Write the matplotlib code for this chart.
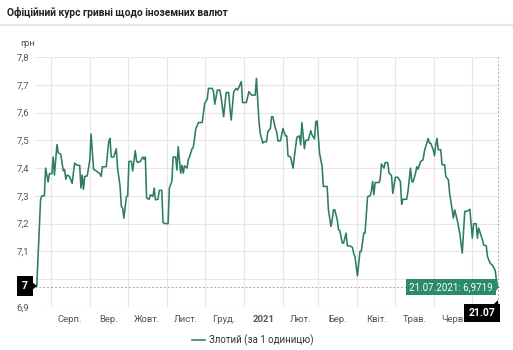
import numpy as np
import matplotlib.pyplot as plt
import matplotlib.dates as mdates
from matplotlib.lines import Line2D
from matplotlib.patches import Polygon

plt.rcParams['font.family'] = ['Roboto', 'DejaVu Sans']

title = 'Офіційний курс гривні щодо іноземних валют'
unit = 'грн'
series_name = 'Злотий (за 1 одиницю)'
start = np.datetime64('2020-07-21')

# дні від 21.07.2020 та курс злотого
days = [0, 3, 4, 6, 7, 9, 10, 12, 13, 14, 16, 17, 19, 21, 22, 23, 24, 26, 28, 30,
        32, 34, 35, 36, 37, 38, 40, 42, 43, 45, 47, 50, 51, 52, 55, 57, 58, 59, 61, 63,
        64, 66, 67, 68, 69, 71, 72, 73, 75, 76, 78, 79, 80, 82, 84, 85, 86, 87, 89, 90,
        92, 93, 94, 96, 97, 99, 100, 102, 104, 105, 107, 108, 110, 111, 112, 114, 115, 116, 117, 119,
        120, 121, 123, 124, 126, 127, 128, 131, 133, 135, 136, 139, 140, 141, 143, 145, 146, 148, 150, 152,
        153, 154, 156, 158, 159, 160, 162, 163, 166, 168, 170, 173, 174, 176, 177, 179, 180, 182, 183, 185,
        186, 187, 189, 190, 191, 193, 195, 197, 198, 199, 201, 203, 204, 206, 208, 209, 210, 212, 213, 215,
        217, 218, 220, 221, 222, 224, 226, 227, 230, 231, 233, 234, 235, 236, 238, 239, 240, 242, 243, 245,
        246, 248, 250, 251, 252, 254, 256, 257, 259, 260, 262, 264, 265, 266, 267, 268, 271, 272, 273, 275,
        276, 278, 279, 281, 282, 284, 286, 288, 289, 290, 293, 294, 296, 297, 298, 300, 301, 302, 304, 306,
        307, 308, 310, 311, 312, 314, 315, 316, 317, 318, 320, 321, 323, 324, 326, 327, 329, 330, 331, 333,
        335, 337, 338, 339, 341, 343, 345, 346, 348, 349, 350, 353, 354, 356, 357, 359, 361, 363, 364, 365]
rate = [6.975, 7.286, 7.30, 7.30, 7.40, 7.35, 7.38, 7.38, 7.44, 7.375, 7.485, 7.455, 7.45, 7.39, 7.395, 7.36, 7.375, 7.37, 7.345, 7.418,
        7.41, 7.41, 7.328, 7.375, 7.324, 7.37, 7.372, 7.43, 7.523, 7.396, 7.39, 7.38, 7.37, 7.405, 7.405, 7.495, 7.507, 7.44, 7.44, 7.47,
        7.40, 7.334, 7.262, 7.256, 7.22, 7.297, 7.30, 7.424, 7.424, 7.39, 7.463, 7.427, 7.42, 7.424, 7.44, 7.432, 7.44, 7.292, 7.288, 7.304,
        7.298, 7.328, 7.286, 7.288, 7.32, 7.32, 7.204, 7.20, 7.20, 7.328, 7.352, 7.44, 7.44, 7.393, 7.477, 7.382, 7.41, 7.382, 7.408, 7.40,
        7.432, 7.44, 7.47, 7.475, 7.543, 7.552, 7.564, 7.564, 7.633, 7.648, 7.687, 7.687, 7.675, 7.63, 7.681, 7.681, 7.655, 7.585, 7.672, 7.672,
        7.615, 7.573, 7.675, 7.687, 7.681, 7.69, 7.711, 7.636, 7.636, 7.675, 7.663, 7.663, 7.723, 7.567, 7.525, 7.49, 7.495, 7.495, 7.531, 7.543,
        7.585, 7.585, 7.543, 7.531, 7.498, 7.498, 7.543, 7.516, 7.516, 7.444, 7.44, 7.40, 7.44, 7.511, 7.516, 7.484, 7.564, 7.47, 7.50, 7.50,
        7.535, 7.52, 7.505, 7.567, 7.57, 7.454, 7.405, 7.334, 7.334, 7.25, 7.19, 7.214, 7.25, 7.25, 7.214, 7.178, 7.175, 7.13, 7.13, 7.166,
        7.12, 7.12, 7.115, 7.094, 7.082, 7.012, 7.10, 7.10, 7.166, 7.166, 7.297, 7.30, 7.316, 7.352, 7.304, 7.348, 7.348, 7.358, 7.415, 7.40,
        7.42, 7.42, 7.382, 7.373, 7.309, 7.367, 7.367, 7.352, 7.27, 7.288, 7.288, 7.316, 7.40, 7.352, 7.35, 7.382, 7.405, 7.396, 7.424, 7.43,
        7.46, 7.477, 7.507, 7.49, 7.49, 7.466, 7.444, 7.484, 7.507, 7.466, 7.466, 7.412, 7.412, 7.37, 7.358, 7.31, 7.25, 7.22, 7.25, 7.214,
        7.166, 7.094, 7.166, 7.244, 7.245, 7.252, 7.148, 7.20, 7.20, 7.148, 7.184, 7.142, 7.123, 7.12, 7.082, 7.058, 7.05, 7.033, 7.0, 6.9719]

month_names = ['Серп.', 'Вер.', 'Жовт.', 'Лист.', 'Груд.', '2021', 'Лют.', 'Бер.', 'Квіт.', 'Трав.', 'Черв.']
y_ticks = [6.9, 7.0, 7.1, 7.2, 7.3, 7.4, 7.5, 7.6, 7.7, 7.8]
y_labels = ['6,9', '7', '7,1', '7,2', '7,3', '7,4', '7,5', '7,6', '7,7', '7,8']
last_date_label = '21.07'
last_value_label = '21.07.2021: 6,9719'
cross_y_label = '7'

W, H = 513, 350
fig = plt.figure(figsize=(W / 100, H / 100), dpi=100)

def fx(px):
    return px / W

def fy(py):
    return 1 - py / H

fig.text(fx(7), fy(12), title, fontsize=7.4, weight='bold', color='#222', va='center')
fig.add_artist(Line2D([0, 1], [fy(25), fy(25)], color='#e6e6e6', lw=1.5, transform=fig.transFigure))

ax = fig.add_axes([fx(35), fy(307), (500 - 35) / W, (307 - 57) / H])
dates = start + np.array(days).astype('timedelta64[D]')
x = mdates.date2num(dates)
line, = ax.plot(x, rate, color='#2e7d62', lw=1.15, zorder=3)

x0 = mdates.date2num(start)
ax.set_xlim(x0 - 1.4, x0 + 366.9)
ax.set_ylim(6.9, 7.8)

months = np.arange(np.datetime64('2020-08'), np.datetime64('2021-08'), dtype='datetime64[M]')
mstart = mdates.date2num(months.astype('datetime64[D]'))
mid = (mstart[:-1] + mstart[1:]) / 2
ax.set_xticks(mstart, minor=True)
ax.set_xticks(mid)
ax.set_xticklabels(month_names)
for lab in ax.get_xticklabels():
    if lab.get_text() == '2021':
        lab.set_fontweight('bold')
        lab.set_color('#222')
ax.set_yticks(y_ticks)
ax.set_yticklabels(y_labels)
ax.tick_params(axis='both', which='both', length=0, labelsize=6.8, labelcolor='#555')
ax.tick_params(axis='x', pad=5.5)
ax.tick_params(axis='y', pad=4)
ax.grid(axis='y', color='#e6e6e6', lw=0.8)
ax.grid(axis='x', which='minor', color='#e6e6e6', lw=0.8)
ax.grid(axis='x', which='major', visible=False)
for s in ax.spines.values():
    s.set_visible(False)

# перехрестя
end_x = x[-1]
ax.axhline(rate[-1], color='#aaaaaa', lw=0.7, ls=(0, (2, 2)), zorder=2)
ax.axvline(end_x, color='#aaaaaa', lw=0.7, ls=(0, (2, 2)), zorder=2)

fig.text(fx(20), fy(44), unit, fontsize=6.8, color='#555', va='center')

# мітка по осі y
fig.text(fx(25), fy(286), cross_y_label, fontsize=7.5, weight='bold', color='white',
         ha='center', va='center', zorder=5,
         bbox=dict(boxstyle='square,pad=0.45', fc='black', ec='none'))
fig.add_artist(Polygon([[fx(32), fy(282)], [fx(37), fy(286)], [fx(32), fy(290)]],
                       closed=True, fc='black', ec='none', transform=fig.transFigure))

# мітка по осі x
fig.text(fx(482), fy(313), last_date_label, fontsize=7.5, weight='bold', color='white',
         ha='center', va='center', zorder=5,
         bbox=dict(boxstyle='square,pad=0.4', fc='black', ec='none'))
fig.add_artist(Polygon([[fx(494), fy(304)], [fx(498), fy(300)], [fx(498), fy(306)]],
                       closed=True, fc='black', ec='none', transform=fig.transFigure))

# підказка
fig.text(fx(451), fy(287), last_value_label, fontsize=7, color='white',
         ha='center', va='center',
         bbox=dict(boxstyle='square,pad=0.35', fc='#2b8a68', ec='none'))
fig.add_artist(Polygon([[fx(495), fy(282)], [fx(499), fy(287)], [fx(495), fy(292)]],
                       closed=True, fc='#2b8a68', ec='none', transform=fig.transFigure))

fig.legend([line], [series_name], loc='center', bbox_to_anchor=(fx(253), fy(340)),
           frameon=False, fontsize=7, handlelength=1.3, handletextpad=0.4, labelcolor='#333')

fig.savefig('out.png', dpi=100)
